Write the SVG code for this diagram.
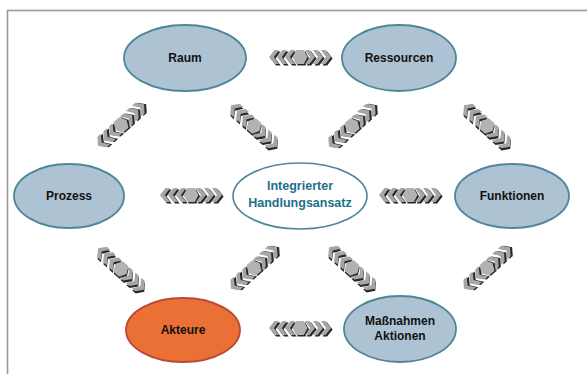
<svg xmlns="http://www.w3.org/2000/svg" width="587" height="374" viewBox="0 0 587 374">
<style>
.frame{fill:#fff;stroke:#9a9a9a;stroke-width:1.6}
.node{fill:#adc3d3;stroke:#4f8599;stroke-width:1.8}
.hot{fill:#ea7036;stroke:#b94a35;stroke-width:1.8}
.core{fill:#fff;stroke:#4f8599;stroke-width:1.6}
.lbl{font-family:"Liberation Sans",Arial,sans-serif;font-weight:bold;font-size:12px;fill:#111;text-anchor:middle}
.clbl{font-family:"Liberation Sans",Arial,sans-serif;font-weight:bold;font-size:12.5px;fill:#1d6f8c;text-anchor:middle}
.sh{fill:#262626}
.cv{fill:#a6a6a6}
.hx{fill:#b2b2b2}
</style>
<defs>
<g id="chev">
<g class="sh" transform="translate(1.6,1.4)">
<polygon points="-31,0 -25.5,-7 -21,-7 -26,0 -21,7 -25.5,7"/>
<polygon points="-23,0 -17.5,-7 -13,-7 -18,0 -13,7 -17.5,7"/>
<polygon points="-15,0 -9.5,-7 -5,-7 -10,0 -5,7 -9.5,7"/>
<polygon points="-7.5,0 -3.8,-7 3.8,-7 7.5,0 3.8,7 -3.8,7"/>
<polygon points="31,0 25.5,-7 21,-7 26,0 21,7 25.5,7"/>
<polygon points="23,0 17.5,-7 13,-7 18,0 13,7 17.5,7"/>
<polygon points="15,0 9.5,-7 5,-7 10,0 5,7 9.5,7"/>
</g>
<g class="cv">
<polygon points="-31,0 -25.5,-7 -21,-7 -26,0 -21,7 -25.5,7"/>
<polygon points="-23,0 -17.5,-7 -13,-7 -18,0 -13,7 -17.5,7"/>
<polygon points="-15,0 -9.5,-7 -5,-7 -10,0 -5,7 -9.5,7"/>
<polygon class="hx" points="-7.5,0 -3.8,-7 3.8,-7 7.5,0 3.8,7 -3.8,7"/>
<polygon points="31,0 25.5,-7 21,-7 26,0 21,7 25.5,7"/>
<polygon points="23,0 17.5,-7 13,-7 18,0 13,7 17.5,7"/>
<polygon points="15,0 9.5,-7 5,-7 10,0 5,7 9.5,7"/>
</g>
</g>
</defs>
<rect class="frame" x="7.5" y="10.5" width="600" height="400"/>
<g id="connectors">
<use href="#chev" transform="translate(300,57)"/>
<use href="#chev" transform="translate(191,195)"/>
<use href="#chev" transform="translate(410,195)"/>
<use href="#chev" transform="translate(300,328)"/>
<use href="#chev" transform="translate(121,125) rotate(-42)"/>
<use href="#chev" transform="translate(254,126) rotate(42)"/>
<use href="#chev" transform="translate(352,126) rotate(-42)"/>
<use href="#chev" transform="translate(487,126) rotate(42)"/>
<use href="#chev" transform="translate(121,269) rotate(42)"/>
<use href="#chev" transform="translate(254,268) rotate(-42)"/>
<use href="#chev" transform="translate(352,268) rotate(42)"/>
<use href="#chev" transform="translate(487,268) rotate(-42)"/>
</g>
<g id="raum"><ellipse class="node" cx="185" cy="58" rx="61" ry="33"/><text class="lbl" x="185" y="62">Raum</text></g>
<g id="ressourcen"><ellipse class="node" cx="399" cy="58" rx="57" ry="33"/><text class="lbl" x="399" y="62">Ressourcen</text></g>
<g id="prozess"><ellipse class="node" cx="69" cy="196" rx="55" ry="32"/><text class="lbl" x="69" y="200">Prozess</text></g>
<g id="center"><ellipse class="core" cx="300" cy="196" rx="67" ry="33"/><text class="clbl" x="300" y="190">Integrierter</text><text class="clbl" x="300" y="207">Handlungsansatz</text></g>
<g id="funktionen"><ellipse class="node" cx="512" cy="196" rx="57" ry="32"/><text class="lbl" x="512" y="200">Funktionen</text></g>
<g id="akteure"><ellipse class="hot" cx="183" cy="330" rx="57" ry="32"/><text class="lbl" x="183" y="334">Akteure</text></g>
<g id="massnahmen"><ellipse class="node" cx="400" cy="329" rx="56" ry="33"/><text class="lbl" x="400" y="325">Maßnahmen</text><text class="lbl" x="400" y="340">Aktionen</text></g>
</svg>
